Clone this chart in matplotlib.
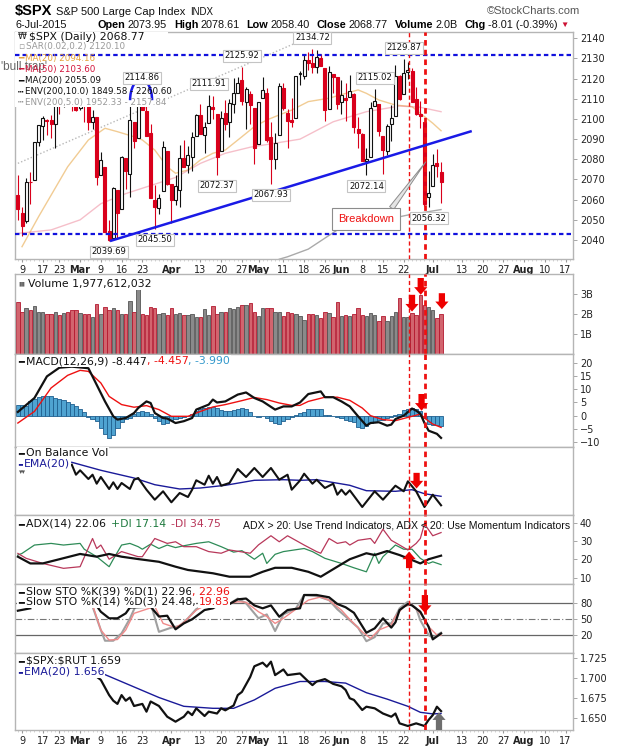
import matplotlib
matplotlib.use("Agg")
import matplotlib.pyplot as plt
from matplotlib.patches import Rectangle, Arc
import numpy as np
import pandas as pd

plt.rcParams["font.family"] = ["DejaVu Sans"]

W, H = 620, 750
RED = "#d9001b"

# ---------------------------------------------------------------- calendar
HOLIDAYS = ["2015-02-16", "2015-04-03", "2015-05-25", "2015-07-03"]
CAL = pd.bdate_range("2015-02-06", "2015-08-21")
CAL = CAL[~CAL.isin(pd.to_datetime(HOLIDAYS))]

TICK_DATES = ["2015-02-09", "2015-02-17", "2015-02-23", "2015-03-02", "2015-03-09",
              "2015-03-16", "2015-03-23", "2015-04-01", "2015-04-13", "2015-04-20",
              "2015-04-27", "2015-05-01", "2015-05-11", "2015-05-18", "2015-05-26",
              "2015-06-01", "2015-06-08", "2015-06-15", "2015-06-22", "2015-07-01",
              "2015-07-13", "2015-07-20", "2015-07-27", "2015-08-03", "2015-08-10",
              "2015-08-17"]
TICK_LABELS = ["9", "17", "23", "Mar", "9", "16", "23", "Apr", "13", "20", "27", "May",
               "11", "18", "26", "Jun", "8", "15", "22", "Jul", "13", "20", "27", "Aug",
               "10", "17"]

# ---------------------------------------------------------------- daily data (Feb 6 .. Jul 6)
PREV_CLOSE = 2062.52
OPEN = [2062.28, 2053.47, 2049.38, 2068.55, 2069.98, 2088.78, 2096.47, 2099.16, 2099.25, 2097.65,
        2109.83, 2109.10, 2115.30, 2113.91, 2110.88, 2105.23, 2115.76, 2107.72, 2098.54, 2100.91,
        2072.25, 2076.14, 2044.69, 2041.10, 2064.56, 2055.35, 2080.59, 2072.84, 2098.69, 2090.32,
        2107.99, 2103.94, 2093.10, 2059.94, 2055.78, 2064.11, 2084.05, 2067.63, 2060.03, 2064.87,
        2080.79, 2076.94, 2081.29, 2091.51, 2102.03, 2092.28, 2097.82, 2105.96, 2102.58, 2084.11,
        2102.82, 2098.27, 2107.21, 2112.80, 2119.29, 2108.35, 2112.49, 2105.52, 2087.38, 2110.23,
        2112.63, 2091.26, 2079.96, 2092.13, 2115.56, 2102.87, 2099.62, 2100.43, 2122.07, 2121.30,
        2129.45, 2127.79, 2125.55, 2130.36, 2125.34, 2105.13, 2122.27, 2120.66, 2108.64, 2110.41,
        2110.64, 2112.35, 2095.09, 2092.34, 2079.07, 2081.12, 2106.24, 2107.43, 2091.34, 2084.26,
        2097.40, 2101.58, 2121.06, 2112.50, 2123.16, 2123.65, 2109.96, 2102.62, 2098.63, 2061.19,
        2067.00, 2078.03, 2073.95]
HIGH = [2072.40, 2056.16, 2070.86, 2073.48, 2088.53, 2097.03, 2101.30, 2100.23, 2102.13, 2110.61,
        2110.05, 2117.94, 2119.59, 2113.91, 2112.74, 2117.52, 2115.76, 2107.72, 2104.25, 2100.91,
        2083.49, 2076.14, 2050.08, 2066.41, 2064.56, 2081.41, 2080.59, 2106.85, 2098.69, 2113.92,
        2114.86, 2107.63, 2097.43, 2067.15, 2062.83, 2088.97, 2084.05, 2067.63, 2072.17, 2086.99,
        2089.81, 2086.69, 2093.31, 2102.61, 2107.65, 2098.62, 2111.91, 2111.30, 2102.58, 2103.94,
        2109.64, 2109.98, 2120.49, 2120.92, 2125.92, 2116.04, 2113.65, 2105.52, 2108.41, 2120.95,
        2115.24, 2098.42, 2092.90, 2117.66, 2117.69, 2105.06, 2110.19, 2121.45, 2123.89, 2131.78,
        2133.02, 2134.72, 2134.28, 2132.15, 2125.34, 2126.22, 2122.27, 2120.66, 2119.15, 2117.59,
        2121.92, 2112.89, 2100.99, 2093.01, 2085.62, 2108.50, 2115.02, 2107.43, 2091.34, 2097.40,
        2106.79, 2126.65, 2121.64, 2129.87, 2128.03, 2125.10, 2116.04, 2108.92, 2098.63, 2074.28,
        2082.78, 2085.06, 2078.61]
LOW = [2049.97, 2041.88, 2048.62, 2057.99, 2069.98, 2086.70, 2089.80, 2092.15, 2090.79, 2085.44,
       2102.68, 2105.87, 2109.89, 2103.76, 2103.75, 2104.50, 2098.26, 2094.49, 2095.22, 2067.27,
       2072.21, 2044.16, 2039.69, 2041.10, 2041.17, 2055.35, 2065.08, 2061.23, 2085.56, 2090.32,
       2104.42, 2091.50, 2061.05, 2045.50, 2052.96, 2064.11, 2067.04, 2048.38, 2057.32, 2056.52,
       2076.10, 2073.30, 2074.29, 2091.51, 2092.33, 2083.24, 2097.82, 2100.02, 2072.37, 2084.11,
       2094.38, 2091.05, 2103.19, 2112.80, 2107.04, 2094.89, 2097.41, 2077.59, 2087.38, 2110.23,
       2088.46, 2067.93, 2074.99, 2092.13, 2104.58, 2085.57, 2096.04, 2100.43, 2116.81, 2120.01,
       2124.50, 2122.59, 2122.95, 2126.06, 2099.18, 2105.13, 2112.86, 2104.89, 2102.54, 2099.14,
       2110.64, 2093.23, 2085.67, 2079.11, 2072.14, 2081.12, 2106.24, 2091.33, 2072.49, 2082.10,
       2088.86, 2101.58, 2109.45, 2112.50, 2119.89, 2108.58, 2101.90, 2095.38, 2056.64, 2056.32,
       2067.00, 2071.02, 2058.40]
CLOSE = [2055.47, 2046.74, 2068.59, 2068.53, 2088.48, 2096.99, 2100.34, 2099.68, 2097.45, 2110.30,
         2109.66, 2115.48, 2113.86, 2110.74, 2104.50, 2117.39, 2107.78, 2098.53, 2101.04, 2071.26,
         2079.43, 2044.16, 2040.24, 2065.95, 2053.40, 2081.19, 2074.28, 2099.50, 2089.27, 2108.10,
         2104.42, 2091.50, 2061.05, 2056.15, 2061.02, 2086.24, 2067.89, 2059.69, 2066.96, 2080.62,
         2076.33, 2081.90, 2091.18, 2102.06, 2092.43, 2095.84, 2106.63, 2104.99, 2081.18, 2100.40,
         2097.29, 2107.96, 2112.93, 2117.69, 2108.92, 2114.76, 2106.85, 2085.51, 2108.29, 2114.49,
         2089.46, 2080.15, 2088.00, 2116.10, 2105.33, 2099.12, 2098.48, 2121.10, 2122.73, 2129.20,
         2127.83, 2125.85, 2130.82, 2126.06, 2104.20, 2123.48, 2120.79, 2107.39, 2111.73, 2109.60,
         2114.07, 2095.84, 2092.83, 2079.28, 2080.15, 2105.20, 2108.86, 2094.11, 2084.43, 2096.29,
         2100.44, 2121.24, 2109.99, 2122.85, 2124.20, 2108.58, 2102.31, 2101.49, 2057.64, 2063.11,
         2077.42, 2076.78, 2068.77]
VOLUME_B = [2.6, 2.1, 2.3, 2.2, 2.4, 2.1, 2.1, 2.0, 2.0, 2.1,
            1.95, 2.05, 2.1, 2.2, 2.2, 2.05, 2.0, 2.0, 1.85, 2.5,
            2.0, 2.35, 2.2, 2.3, 2.2, 2.0, 2.0, 2.65, 2.1, 3.35,
            2.0, 1.95, 2.35, 2.3, 2.0, 2.05, 1.95, 2.3, 2.0, 2.05,
            1.95, 1.95, 2.0, 1.85, 1.85, 2.25, 1.95, 2.4, 2.0, 2.1,
            2.1, 2.3, 2.25, 2.35, 2.45, 2.45, 2.55, 2.1, 1.9, 2.3,
            2.3, 2.3, 2.1, 2.1, 1.9, 2.1, 2.05, 2.0, 1.9, 1.7,
            2.0, 2.0, 1.95, 1.8, 2.1, 2.05, 1.85, 2.6, 1.9, 1.95,
            1.9, 2.0, 2.3, 1.95, 1.9, 2.05, 1.95, 1.65, 1.9, 1.65,
            1.9, 2.1, 2.8, 1.85, 1.85, 2.05, 1.95, 2.95, 2.45, 2.35,
            2.2, 1.8, 1.977]
MACD_HIST = [4.2, 4.2, 3.6, 5.4, 6.5, 7.2, 7.4, 7.6, 7.3, 6.7,
             6.3, 6.0, 5.3, 4.6, 3.8, 2.6, 1.2, -0.6, -1.2, -2.2,
             -4.5, -6.8, -8.5, -7.2, -4.5, -2.3, -1.4, -0.8, 0.6, 1.3,
             1.9, 1.5, 0.5, -1.0, -2.2, -3.2, -2.9, -1.8, -1.4, -1.0,
             -0.6, -0.2, 0.6, 1.6, 2.4, 2.9, 3.3, 3.3, 2.8, 2.0,
             1.9, 1.9, 2.2, 2.7, 2.9, 2.6, 1.3, -0.2, -0.4, -0.3,
             -1.0, -2.0, -2.9, -3.2, -2.2, -1.2, -0.5, 0.3, 1.0, 1.5,
             2.4, 2.5, 2.5, 2.4, 0.4, 0.2, -0.3, -0.5, -1.0, -1.5,
             -2.0, -2.3, -4.3, -4.7, -4.0, -2.9, -2.6, -1.8, -1.5, -0.9,
             -0.6, 0.4, 0.8, 2.0, 2.5, 2.9, 2.7, 1.6, -0.9, -3.2,
             -3.5, -3.7, -3.99]

# ---------------------------------------------------------------- indicator lines (day, value)
MA20_DAY = [1, 5, 12, 17, 21, 24, 28, 30, 33, 36, 38, 41, 44, 47, 50, 54, 57, 60, 63, 66,
            70, 75, 82, 84, 87, 91, 95, 97, 100, 102]
MA20_VAL = [2036.7, 2051.6, 2076.3, 2089.6, 2095.4, 2093.7, 2091.2, 2089.6, 2084.6, 2076.3,
            2073.1, 2074.7, 2079.7, 2083.0, 2084.6, 2091.2, 2096.2, 2099.5, 2102.0, 2104.4,
            2108.6, 2110.3, 2114.4, 2112.7, 2109.4, 2106.9, 2106.1, 2102.8, 2097.9, 2094.16]
MA50_DAY = [0, 8, 15, 20, 26, 32, 38, 44, 50, 56, 62, 68, 76, 84, 92, 97, 102]
MA50_VAL = [2043.3, 2045.0, 2050.0, 2058.0, 2063.0, 2067.0, 2071.0, 2078.0, 2083.0, 2086.0,
            2088.0, 2090.0, 2098.6, 2103.6, 2106.4, 2105.8, 2103.6]
MA200_DAY = [63, 65, 70, 77, 94, 102]
MA200_VAL = [2030.5, 2031.7, 2035.5, 2045.0, 2052.4, 2055.09]

MACD_DAY = [0, 4, 7, 10, 13, 17, 19, 21, 23, 24, 26, 28, 29, 31, 32, 33, 35, 36, 38, 40,
            42, 43, 46, 47, 48, 50, 53, 55, 57, 59, 62, 64, 66, 68, 70, 73, 74, 76, 78, 80,
            82, 84, 85, 87, 89, 90, 91, 93, 95, 96, 97, 98, 99, 101, 102]
MACD_VAL = [1.4, 6.7, 14.9, 18.2, 18.6, 18.0, 11.7, 5.4, -0.25, -1.5, -0.9, 1.0, 2.9, 5.4,
            4.8, 1.0, -0.9, -1.1, -2.8, -2.1, -0.9, 2.3, 4.2, 6.1, 5.0, 5.4, 8.0, 8.8, 6.7,
            5.4, 2.3, 3.5, 3.5, 5.0, 8.2, 9.2, 7.0, 7.0, 5.4, 3.5, -0.25, -3.8, -2.8, -2.5,
            -3.8, -3.4, -1.3, 0.0, 2.7, 1.9, 0.75, -2.8, -5.7, -6.9, -8.447]
SIGNAL_DAY = [0, 4, 8, 12, 15, 17, 20, 22, 25, 28, 31, 34, 37, 41, 44, 47, 50, 54, 57, 60,
              63, 66, 68, 70, 74, 77, 80, 83, 85, 88, 91, 95, 97, 98, 100, 102]
SIGNAL_VAL = [-2.8, 1.6, 10.5, 15.3, 17.2, 16.8, 12.4, 7.3, 4.2, 3.2, 3.8, 2.3, -0.25, -0.25,
              1.6, 3.3, 4.2, 5.7, 6.9, 6.1, 4.8, 3.9, 3.9, 5.4, 7.0, 7.0, 5.8, 2.9, 0.0, -1.5,
              -1.9, -0.25, 0.6, -0.9, -3.2, -4.457]

# on balance volume, relative units (no scale shown on the chart)
OBV_DAY = [13, 14, 15, 17, 18, 19, 20, 22, 23, 24, 25, 27, 28, 29, 31, 33, 35, 37, 39, 41,
           42, 43, 45, 46, 47, 48, 49, 51, 53, 55, 57, 59, 61, 63, 65, 66, 68, 69, 71, 72,
           74, 76, 77, 78, 79, 80, 83, 86, 88, 91, 93, 94, 96, 98, 100, 102]
OBV_VAL = [50.3, 40.3, 44.7, 36.0, 40.3, 31.3, 38.0, 26.0, 32.7, 26.0, 32.0, 26.0, 35.3, 37.0,
           25.3, 15.3, 23.7, 12.7, 22.0, 18.0, 25.3, 34.7, 30.3, 39.3, 31.3, 38.0, 29.3, 32.0,
           46.0, 38.0, 47.0, 38.0, 47.0, 35.3, 40.3, 25.3, 34.5, 41.3, 31.3, 35.3, 27.0, 31.3,
           20.3, 25.3, 20.3, 24.7, 8.0, 23.7, 15.3, 29.3, 23.7, 33.7, 23.7, 8.0, 20.3, 9.7]
OBV_EMA_DAY = [13, 20, 28, 33, 39, 44, 50, 57, 64, 68, 72, 80, 84, 91, 95, 98, 102]
OBV_EMA_VAL = [52.7, 44.7, 37.0, 30.3, 26.0, 27.0, 29.7, 34.7, 35.3, 34.7, 35.3, 29.7, 24.3,
               23.7, 25.3, 21.3, 18.7]

ADX_DAY = [0, 3, 6, 10, 15, 19, 22, 25, 29, 34, 38, 41, 47, 51, 56, 59, 62, 66, 70, 73,
           77, 80, 84, 86, 89, 92, 94, 97, 99, 102]
ADX_VAL = [21.5, 17.8, 17.8, 20.1, 23.0, 21.5, 23.0, 21.5, 20.2, 18.7, 16.0, 14.2, 12.4, 10.5,
           10.5, 13.2, 15.4, 15.4, 13.2, 10.5, 16.0, 20.1, 23.4, 22.4, 24.6, 22.4, 20.6, 17.8,
           20.1, 22.06]
PDI_DAY = [0, 1, 4, 8, 11, 15, 16, 19, 22, 23, 25, 27, 29, 30, 32, 34, 36, 38, 40, 43,
           46, 49, 52, 54, 57, 59, 60, 62, 64, 69, 71, 74, 78, 81, 84, 86, 87, 88, 91, 93,
           95, 97, 99, 100, 102]
PDI_VAL = [22.4, 23.3, 27.9, 28.8, 27.9, 28.8, 25.6, 21.5, 16.0, 20.1, 27.9, 28.8, 27.0, 25.6,
           28.4, 26.0, 27.9, 26.5, 27.5, 28.8, 29.7, 27.0, 24.0, 24.8, 20.1, 23.4, 17.8, 22.8,
           24.3, 26.0, 24.3, 20.6, 17.8, 15.4, 13.2, 23.4, 17.8, 21.5, 27.9, 25.6, 25.6, 20.6,
           17.8, 18.7, 17.14]
MDI_DAY = [0, 2, 6, 11, 15, 18, 19, 20, 22, 25, 29, 30, 33, 36, 38, 40, 43, 46, 49, 51,
           56, 58, 61, 63, 65, 69, 72, 73, 75, 77, 79, 80, 82, 85, 86, 88, 90, 92, 94, 96,
           97, 98, 100, 102]
MDI_VAL = [23.3, 20.6, 17.8, 15.1, 16.0, 31.5, 26.0, 27.9, 20.1, 24.3, 21.5, 21.5, 31.5, 28.8,
           29.7, 27.0, 27.0, 24.3, 23.4, 25.2, 23.4, 28.0, 33.0, 29.7, 33.0, 27.9, 24.3, 23.4,
           31.5, 28.8, 29.7, 27.9, 30.5, 31.5, 28.8, 36.6, 30.5, 27.9, 25.2, 28.8, 31.5, 39.5,
           33.0, 34.75]

# slow stochastics; first black segment is cut by the legend (NaN gap)
STO39_DAY = [0, 3, 4, 18, 20, 22, 24, 26, 27, 32, 34, 36, 38, 40, 42, 45, 47, 49, 50, 53,
             55, 57, 59, 61, 63, 65, 68, 69, 72, 75, 77, 79, 81, 84, 86, 88, 90, 91, 92, 94,
             95, 97, 99, 100, 102]
STO39_VAL = [66.0, 70.5, np.nan, 86.0, 64.0, 51.6, 51.6, 61.0, 72.0, 73.6, 55.0, 56.5, 30.8,
             42.0, 49.7, 67.3, 70.5, 80.0, 74.0, 87.5, 89.0, 76.0, 70.5, 76.0, 54.6, 67.3,
             70.5, 95.7, 95.7, 91.4, 78.7, 72.5, 62.0, 24.3, 32.6, 51.6, 34.0, 44.0, 67.3,
             78.7, 76.0, 64.0, 35.7, 11.8, 22.96]
STO14_DAY = [18, 20, 21, 23, 25, 27, 29, 32, 34, 37, 39, 41, 43, 46, 49, 50, 53, 55, 58, 60,
             62, 64, 67, 69, 72, 75, 77, 79, 82, 84, 86, 88, 90, 91, 92, 94, 96, 97, 99, 100,
             102]
STO14_VAL = [74.0, 29.5, 9.2, 9.2, 23.2, 51.0, 86.0, 80.0, 26.0, 34.0, 37.0, 51.6, 69.0, 80.0,
             82.0, 74.0, 89.0, 80.0, 51.6, 59.0, 27.5, 59.0, 70.0, 95.7, 94.0, 86.0, 68.7,
             55.0, 34.0, 8.3, 16.0, 42.0, 42.0, 55.0, 70.5, 83.0, 70.5, 48.0, 20.0, 15.0, 24.48]
STOD_DAY = [18, 20, 22, 24, 26, 28, 33, 35, 38, 40, 43, 46, 50, 53, 55, 58, 60, 62, 64, 67,
            70, 73, 75, 78, 80, 83, 85, 87, 90, 91, 93, 95, 97, 99, 101, 102]
STOD_VAL = [77.0, 29.5, 10.5, 11.5, 29.5, 61.0, 74.0, 42.0, 34.0, 44.0, 67.0, 80.0, 78.0, 83.0,
            82.0, 64.0, 55.0, 42.0, 51.6, 68.7, 86.0, 92.0, 86.0, 67.0, 49.7, 26.0, 13.6, 29.5,
            39.0, 55.0, 74.0, 77.0, 61.0, 35.7, 20.0, 19.83]

RATIO_DAY = [19, 20, 22, 23, 24, 25, 26, 27, 28, 30, 31, 32, 34, 36, 38, 40, 41, 42, 43, 45,
             46, 48, 49, 50, 52, 53, 54, 56, 57, 59, 60, 61, 62, 64, 65, 68, 70, 71, 72, 74,
             76, 78, 79, 80, 81, 83, 84, 86, 88, 90, 91, 92, 94, 96, 98, 99, 100, 101, 102]
RATIO_VAL = [1.702, 1.698, 1.679, 1.672, 1.668, 1.679, 1.672, 1.676, 1.6654, 1.668, 1.6583,
             1.671, 1.6654, 1.652, 1.6458, 1.652, 1.6583, 1.654, 1.6625, 1.6529, 1.6583, 1.656,
             1.6625, 1.660, 1.666, 1.679, 1.683, 1.7017, 1.715, 1.7195, 1.7145, 1.7208, 1.704,
             1.711, 1.704, 1.706, 1.696, 1.6915, 1.696, 1.699, 1.693, 1.690, 1.6854, 1.675,
             1.673, 1.6604, 1.6645, 1.6625, 1.656, 1.652, 1.656, 1.6437, 1.6404, 1.6437, 1.6404,
             1.648, 1.654, 1.6645, 1.659]
RATIO_EMA_DAY = [19, 24, 34, 40, 47, 52, 57, 62, 68, 74, 79, 84, 89, 94, 97, 100, 102]
RATIO_EMA_VAL = [1.709, 1.698, 1.676, 1.665, 1.6625, 1.6625, 1.673, 1.6875, 1.696, 1.696, 1.694,
                 1.682, 1.674, 1.665, 1.6575, 1.6555, 1.656]

# labelled swing points
LABEL_DAY = [22, 33, 30, 46, 48, 54, 61, 71, 84, 86, 93, 99]
LABEL_PRICE = [2039.69, 2045.50, 2114.86, 2111.91, 2072.37, 2125.92, 2067.93, 2134.72,
               2072.14, 2115.02, 2129.87, 2056.32]
LABEL_HIGH = [False, False, True, True, False, True, False, True, False, True, True, False]

# hand-drawn chart annotations
SUPPORT, RESIST = 2042.8, 2131.7
TREND_DAY, TREND_PRICE = [22.2, 109.4], [2039.5, 2094.0]
DOTTED_DAY, DOTTED_PRICE = [0, 75], [2078.0, 2144.8]
VLINE_THIN, VLINE_THICK = 94.3, 98.1

# ---------------------------------------------------------------- figure
fig = plt.figure(figsize=(W / 100, H / 100), dpi=100)
fig.patch.set_facecolor("white")
XMIN, XMAX = -0.69, 133.8
tick_pos = [CAL.get_loc(pd.Timestamp(d)) for d in TICK_DATES]
days = np.arange(len(CLOSE))


def panel(top, bottom):
    ax = fig.add_axes([15 / W, 1 - bottom / H, 558 / W, (bottom - top) / H])
    ax.set_xlim(XMIN, XMAX)
    for s in ax.spines.values():
        s.set_color("#b5b5b5")
        s.set_linewidth(1.0)
    ax.yaxis.tick_right()
    ax.tick_params(axis="y", labelsize=7, length=3, width=0.6, color="#999999", pad=2,
                   labelcolor="#222222")
    ax.set_xticks(tick_pos)
    ax.tick_params(axis="x", length=0, labelbottom=False)
    ax.axvline(VLINE_THIN, color="#ee1111", lw=1.0, ls=(0, (3, 2)), zorder=6)
    ax.axvline(VLINE_THICK, color="#ee1111", lw=2.0, ls=(0, (2, 1.5)), zorder=6)
    return ax


def date_labels(ax):
    ax.set_xticklabels(TICK_LABELS)
    ax.tick_params(axis="x", labelbottom=True, labelsize=7, length=2, color="#999999",
                   pad=2, labelcolor="#222222")
    for lab in ax.get_xticklabels():
        if not lab.get_text().isdigit():
            lab.set_fontweight("bold")
    ax.set_xticks(np.arange(0, 134), minor=True)
    ax.tick_params(axis="x", which="minor", length=1.5, color="#cccccc")


def block_arrow(ax, x, y_tail, y_tip, color="#ee0000"):
    ax.annotate("", xy=(x, y_tip), xytext=(x, y_tail),
                xycoords=("data", "axes fraction"), textcoords=("data", "axes fraction"),
                arrowprops=dict(arrowstyle="simple,head_width=0.95,head_length=0.55,tail_width=0.45",
                                fc=color, ec=color, lw=0, shrinkA=0, shrinkB=0),
                zorder=9, annotation_clip=False)


renderer = fig.canvas.get_renderer()


def chain(x, y, parts, family="DejaVu Sans", bg=None):
    """Place text pieces one after the other; parts = (text, color, weight, size, gap)."""
    for text, color, weight, size, gap in parts:
        kw = {}
        if bg:
            kw["bbox"] = dict(boxstyle="square,pad=0.08", fc=bg, ec="none")
        t = fig.text(x / W, 1 - y / H, text, color=color, fontweight=weight, fontsize=size,
                     family=[family, "DejaVu Sans"], va="center", ha="left", zorder=20, **kw)
        x += t.get_window_extent(renderer=renderer).width + gap
    return x


prev = np.r_[PREV_CLOSE, CLOSE[:-1]]
close = np.array(CLOSE)
opn = np.array(OPEN)
up = close >= prev
colors = np.where(up, "#111111", RED)

# ---------------------------------------------------------------- price panel
ax = panel(32, 259)
ax.set_ylim(2030.6, 2143.1)
ax.set_yticks(np.arange(2040, 2141, 10))
date_labels(ax)

ax.plot(MA20_DAY, MA20_VAL, color="#e6a23c", lw=1.0, alpha=0.55, zorder=1)
ax.plot(MA50_DAY, MA50_VAL, color="#e8607a", lw=1.0, alpha=0.4, zorder=1)
ax.plot(MA200_DAY, MA200_VAL, color="#aaaaaa", lw=1.0, zorder=1)
ax.plot(DOTTED_DAY, DOTTED_PRICE, color="#b8b8b8", lw=1.0, ls=(0, (1, 1.5)), zorder=1)

filled = close < opn
faces = np.where(filled, colors, "white")
ax.vlines(days, LOW, HIGH, colors=colors, lw=0.8, zorder=2)
ax.bar(days, np.maximum(np.abs(close - opn), 0.35), bottom=np.minimum(close, opn), width=0.72,
       color=faces, edgecolor=colors, linewidth=0.8, zorder=3)

ax.add_patch(Rectangle((0, 0.67), 0.274, 0.33, transform=ax.transAxes, fc="white", ec="none",
                       zorder=4))

ax.axhline(RESIST, color="#1111dd", lw=1.6, ls=(0, (2, 1.4)), zorder=5)
ax.axhline(SUPPORT, color="#1111dd", lw=1.6, ls=(0, (2, 1.4)), zorder=5)
ax.plot(TREND_DAY, TREND_PRICE, color="#1a1ae6", lw=1.8, zorder=5, solid_capstyle="butt")
ax.add_patch(Arc((29.7, 2109.3), 5.3, 20.5, theta1=0, theta2=180, color="#1a1ae6", lw=1.8,
                 zorder=6))

for d, p, hi in zip(LABEL_DAY, LABEL_PRICE, LABEL_HIGH):
    ax.annotate(f"{p:.2f}", xy=(d, p), xytext=(0, 11 if hi else -11), textcoords="offset pixels",
                ha="center", va="center", fontsize=6.1, color="#111111", zorder=7,
                bbox=dict(boxstyle="square,pad=0.18", fc="white", ec="#c4c4c4", lw=0.8))

ax.annotate("Breakdown", xy=(98.3, 2078.7), xytext=(83.9, 2050.4), ha="center", va="center",
            fontsize=8, color="#ee1111", family=["Liberation Sans"], zorder=8,
            bbox=dict(boxstyle="square,pad=0.5", fc="white", ec="#8c8c8c", lw=0.8),
            arrowprops=dict(arrowstyle="wedge,tail_width=0.45,shrink_factor=0.5", fc="#e4e4e4",
                            ec="#8c8c8c", lw=0.7, relpos=(0.88, 1.0), shrinkA=0, shrinkB=0))

fig.text(1 / W, 1 - 67 / H, "'bull trap'", fontsize=8.5, color="#666666",
         family=["Liberation Sans"], va="center", zorder=15)

chain(18, 36.5, [("₩", "#222222", "normal", 6.5, 2),
                 ("\\$SPX (Daily) 2068.77", "#111111", "normal", 7.8, 0)])
legend_rows = [
    (47.0, "▫", "#999999", "SAR(0.02,0.2) 2120.10"),
    (58.3, "━", "#e6a23c", "MA(20) 2094.16"),
    (69.3, "━", "#d2143c", "MA(50) 2103.60"),
    (80.7, "━", "#111111", "MA(200) 2055.09"),
    (91.7, "┅", "#111111", "ENV(200,10.0) 1849.58 - 2260.60"),
    (102.3, "┅", "#999999", "ENV(200,5.0) 1952.33 - 2157.84"),
]
for y, mark, col, text in legend_rows:
    chain(18, y, [(mark, col, "normal", 6.5, 2), (text, col, "normal", 6.3, 0)])

# ---------------------------------------------------------------- header
x = chain(15, 11, [("\\$SPX", "#000000", "bold", 10.5, 4)], family="Liberation Sans")
x = chain(x, 12, [("S&P 500 Large Cap Index", "#111111", "normal", 8, 4),
                  ("INDX", "#111111", "normal", 7, 0)], family="Liberation Sans")
fig.text(580 / W, 1 - 11 / H, "©StockCharts.com", ha="right", va="center", fontsize=8,
         color="#555555", family=["Liberation Sans"])
chain(15, 25, [("6-Jul-2015", "#111111", "normal", 7.8, 0)], family="Liberation Sans")
chain(98, 25, [("Open", "#000000", "bold", 7.8, 2), ("2073.95", "#111111", "normal", 7.8, 7),
               ("High", "#000000", "bold", 7.8, 2), ("2078.61", "#111111", "normal", 7.8, 7),
               ("Low", "#000000", "bold", 7.8, 2), ("2058.40", "#111111", "normal", 7.8, 7),
               ("Close", "#000000", "bold", 7.8, 2), ("2068.77", "#111111", "normal", 7.8, 7),
               ("Volume", "#000000", "bold", 7.8, 2), ("2.0B", "#111111", "normal", 7.8, 7),
               ("Chg", "#000000", "bold", 7.8, 2),
               ("-8.01 (-0.39%)", "#111111", "normal", 7.8, 3),
               ("▼", "#cc1133", "normal", 6, 0)], family="Liberation Sans")

# ---------------------------------------------------------------- volume
axv = panel(274, 354)
axv.set_ylim(0, 3.97)
axv.set_yticks([1, 2, 3])
axv.set_yticklabels(["1B", "2B", "3B"])
axv.bar(days, VOLUME_B, width=0.82, color=np.where(up, "#8a8a8a", "#d2646e"),
        edgecolor=np.where(up, "#555555", "#b3182f"), linewidth=0.6, zorder=2)
chain(18, 284, [("▮▮", "#666666", "normal", 4.5, 3),
                ("Volume 1,977,612,032", "#111111", "normal", 7.8, 0)], bg="white")
block_arrow(axv, 95.0, 0.74, 0.53)
block_arrow(axv, 97.1, 0.95, 0.74)
block_arrow(axv, 102.2, 0.76, 0.56)

# ---------------------------------------------------------------- MACD
axm = panel(354, 447)
axm.set_ylim(-11.9, 23.4)
axm.set_yticks([20, 15, 10, 5, 0, -5, -10])
axm.bar(days, MACD_HIST, width=1.0, color="#4fa3d1", edgecolor="#1f5f8f", linewidth=0.6,
        zorder=2)
axm.plot(SIGNAL_DAY, SIGNAL_VAL, color="#ee1111", lw=1.0, zorder=3)
axm.plot(MACD_DAY, MACD_VAL, color="#111111", lw=1.6, zorder=4)
chain(18, 361, [("━", "#111111", "normal", 7, 2),
                ("MACD(12,26,9) -8.447", "#111111", "normal", 7.8, 0),
                (", -4.457", "#ee1111", "normal", 7.8, 0),
                (", -3.990", "#3399cc", "normal", 7.8, 0)], bg="white")
block_arrow(axm, 97.3, 0.57, 0.39)

# ---------------------------------------------------------------- OBV
axo = panel(447, 515)
axo.set_ylim(0, 68)
axo.set_yticks([])
axo.plot(OBV_EMA_DAY, OBV_EMA_VAL, color="#1a1a99", lw=1.0, zorder=2)
axo.plot(OBV_DAY, OBV_VAL, color="#111111", lw=1.5, zorder=3)
chain(18, 453, [("━", "#111111", "normal", 7, 2),
                ("On Balance Vol", "#111111", "normal", 7.8, 0)], bg="white")
chain(18, 464, [("━", "#1a1a99", "normal", 7, 0),
                ("EMA(20)", "#1a1a99", "normal", 7.8, 0)], bg="white")
fig.text(19 / W, 1 - 472 / H, "▾▾", fontsize=5, color="#555555", va="center")
block_arrow(axo, 96.1, 0.62, 0.39)

# ---------------------------------------------------------------- ADX
axa = panel(515, 584)
axa.set_ylim(6.5, 44.4)
axa.set_yticks([40, 30, 20, 10])
axa.plot(PDI_DAY, PDI_VAL, color="#2e8b57", lw=0.9, zorder=2)
axa.plot(MDI_DAY, MDI_VAL, color="#b8385a", lw=0.9, zorder=2)
axa.plot(ADX_DAY, ADX_VAL, color="#111111", lw=1.6, zorder=3)
chain(18, 524, [("━", "#111111", "normal", 7, 2),
                ("ADX(14) 22.06", "#111111", "normal", 7.8, 5),
                ("+DI 17.14", "#1f7a3f", "normal", 7.8, 5),
                ("-DI 34.75", "#b8385a", "normal", 7.8, 0)], bg="white")
fig.text(570 / W, 1 - 525 / H, "ADX > 20: Use Trend Indicators, ADX < 20: Use Momentum Indicators",
         ha="right", va="center", fontsize=7.6, color="#111111", family=["Liberation Sans"],
         zorder=20)
block_arrow(axa, 94.3, 0.23, 0.47)

# ---------------------------------------------------------------- slow stochastics
axs = panel(584, 653)
axs.set_ylim(-14, 116.5)
axs.set_yticks([80, 50, 20])
axs.axhline(80, color="#666666", lw=0.9, zorder=1)
axs.axhline(20, color="#666666", lw=0.9, zorder=1)
axs.axhline(50, color="#777777", lw=0.8, ls=(0, (6, 2, 1, 2)), zorder=1)
axs.plot(STO14_DAY, STO14_VAL, color="#a0a0a0", lw=1.5, zorder=2)
axs.plot(STOD_DAY, STOD_VAL, color="#f08a8a", lw=1.0, zorder=3)
axs.plot(STO39_DAY, STO39_VAL, color="#111111", lw=1.6, zorder=4)
chain(18, 591.7, [("━", "#111111", "normal", 7, 2),
                  ("Slow STO %K(39) %D(1) 22.96", "#111111", "normal", 7.8, 0),
                  (", 22.96", "#ee1111", "normal", 7.8, 0)], bg="white")
chain(18, 601.7, [("━", "#111111", "normal", 7, 2),
                  ("Slow STO %K(14) %D(3) 24.48,", "#111111", "normal", 7.8, 3),
                  ("19.83", "#ee1111", "normal", 7.8, 0)], bg="white")
block_arrow(axs, 98.1, 0.84, 0.58)

# ---------------------------------------------------------------- $SPX:$RUT
axr = panel(653, 730)
axr.set_ylim(1.6354, 1.7316)
axr.set_yticks([1.725, 1.700, 1.675, 1.650])
axr.set_yticklabels(["1.725", "1.700", "1.675", "1.650"])
date_labels(axr)
axr.plot(RATIO_EMA_DAY, RATIO_EMA_VAL, color="#1a1a99", lw=1.0, zorder=2)
axr.plot(RATIO_DAY, RATIO_VAL, color="#111111", lw=1.6, zorder=3)
chain(18, 660.7, [("━", "#111111", "normal", 7, 2),
                  ("\\$SPX:\\$RUT 1.659", "#111111", "normal", 7.8, 0)], bg="white")
chain(18, 671.7, [("━", "#1a1a99", "normal", 7, 0),
                  ("EMA(20) 1.656", "#1a1a99", "normal", 7.8, 0)], bg="white")
block_arrow(axr, 101.5, 0.0, 0.23, color="#6e6e6e")

fig.savefig("out.png", dpi=100, facecolor="white")
